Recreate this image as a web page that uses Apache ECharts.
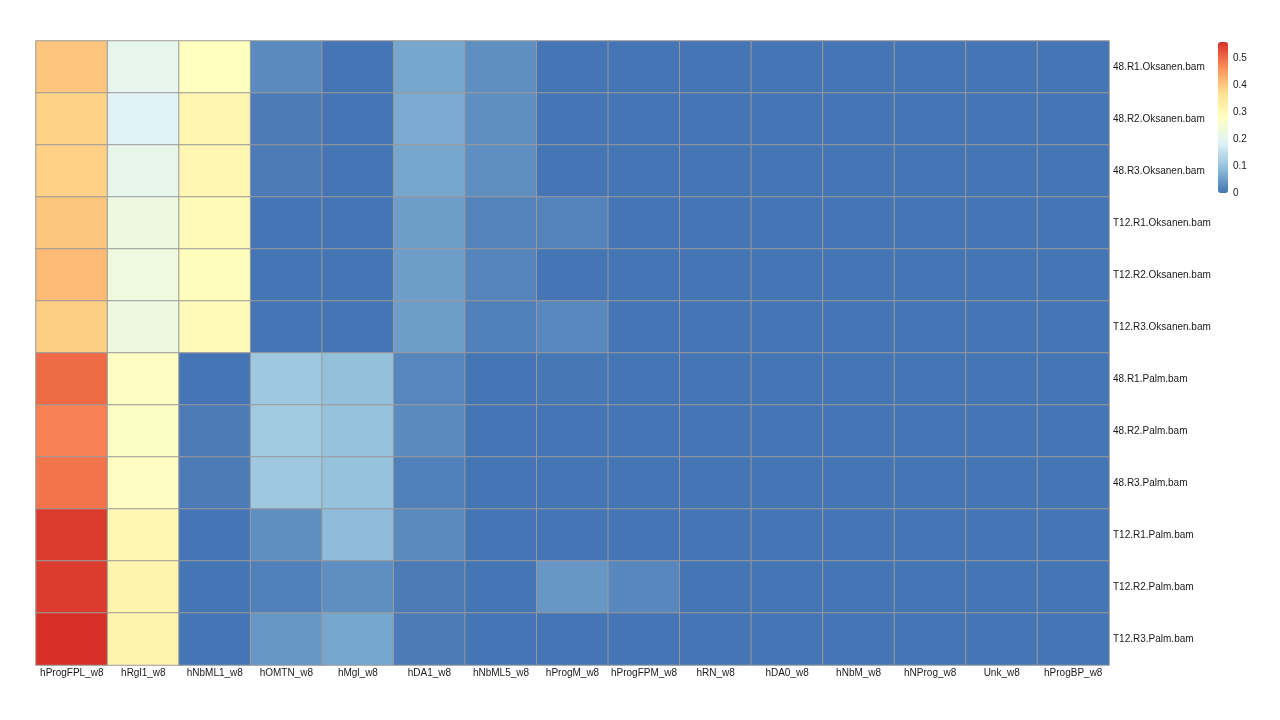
<!DOCTYPE html>
<html>
<head>
<meta charset="utf-8">
<script src="https://cdn.jsdelivr.net/npm/echarts@6/dist/echarts.min.js"></script>
<style>html,body{margin:0;padding:0;background:#fff}#c{width:1280px;height:720px}</style>
</head>
<body>
<div id="c"></div>
<script>
const columns = ["hProgFPL_w8","hRgl1_w8","hNbML1_w8","hOMTN_w8","hMgl_w8","hDA1_w8","hNbML5_w8","hProgM_w8","hProgFPM_w8","hRN_w8","hDA0_w8","hNbM_w8","hNProg_w8","Unk_w8","hProgBP_w8"];
const rows = ["48.R1.Oksanen.bam","48.R2.Oksanen.bam","48.R3.Oksanen.bam","T12.R1.Oksanen.bam","T12.R2.Oksanen.bam","T12.R3.Oksanen.bam","48.R1.Palm.bam","48.R2.Palm.bam","48.R3.Palm.bam","T12.R1.Palm.bam","T12.R2.Palm.bam","T12.R3.Palm.bam"];
// one array per row, values per column
const r48R1Oks  = [0.403,0.205,0.280,0.027,0.000,0.063,0.032,0.000,0.000,0,0,0,0,0,0];
const r48R2Oks  = [0.387,0.190,0.310,0.008,0.000,0.067,0.032,0.000,0.000,0,0,0,0,0,0];
const r48R3Oks  = [0.389,0.210,0.300,0.008,0.000,0.063,0.032,0.000,0.000,0,0,0,0,0,0];
const rT12R1Oks = [0.402,0.226,0.295,0.000,0.000,0.050,0.018,0.018,0.000,0,0,0,0,0,0];
const rT12R2Oks = [0.416,0.230,0.285,0.000,0.000,0.050,0.020,0.000,0.000,0,0,0,0,0,0];
const rT12R3Oks = [0.393,0.226,0.295,0.000,0.000,0.050,0.015,0.024,0.000,0,0,0,0,0,0];
const r48R1Palm = [0.502,0.275,0.000,0.110,0.096,0.021,0.000,0.002,0.000,0,0,0,0,0,0];
const r48R2Palm = [0.478,0.270,0.008,0.112,0.098,0.027,0.000,0.000,0.000,0,0,0,0,0,0];
const r48R3Palm = [0.491,0.275,0.008,0.110,0.098,0.014,0.000,0.000,0.000,0,0,0,0,0,0];
const rT12R1Palm= [0.548,0.300,0.000,0.032,0.090,0.027,0.000,0.000,0.000,0,0,0,0,0,0];
const rT12R2Palm= [0.547,0.315,0.000,0.014,0.032,0.008,0.000,0.043,0.023,0,0,0,0,0,0];
const rT12R3Palm= [0.559,0.315,0.000,0.043,0.063,0.008,0.000,0.000,0.000,0,0,0,0,0,0];
const matrix = [r48R1Oks,r48R2Oks,r48R3Oks,rT12R1Oks,rT12R2Oks,rT12R3Oks,r48R1Palm,r48R2Palm,r48R3Palm,rT12R1Palm,rT12R2Palm,rT12R3Palm];
const legendTicks = [0,0.1,0.2,0.3,0.4,0.5];
const valueMin = 0, valueMax = 0.559;
const palette = ["#4575B4","#91BFDB","#E0F3F8","#FFFFBF","#FEE090","#FC8D59","#D73027"];

const data = [];
matrix.forEach((row, yi) => row.forEach((v, xi) => data.push([xi, yi, v])));

const font = "Liberation Sans, Arial, sans-serif";
const chart = echarts.init(document.getElementById('c'));
chart.setOption({
  animation: false,
  backgroundColor: '#fff',
  grid: [
    {left: 36, right: 171, top: 41, bottom: 55},
    {left: 1218, width: 10, top: 42, height: 151}
  ],
  xAxis: [
    {type: 'category', data: columns, gridIndex: 0, position: 'bottom',
     axisLine: {show: false}, axisTick: {show: false}, splitLine: {show: false},
     axisLabel: {fontSize: 10, color: '#1a1a1a', fontFamily: font, margin: 3, interval: 0}},
    {type: 'value', gridIndex: 1, show: false, min: 0, max: 1}
  ],
  yAxis: [
    {type: 'category', data: rows, gridIndex: 0, inverse: true, position: 'right',
     axisLine: {show: false}, axisTick: {show: false}, splitLine: {show: false},
     axisLabel: {fontSize: 10, color: '#1a1a1a', fontFamily: font, margin: 4, align: 'left',
       padding: [2, 0, 0, 0]}},
    {type: 'value', gridIndex: 1, position: 'right', min: valueMin, max: valueMax,
     interval: 0.1, axisLine: {show: false}, axisTick: {show: false}, splitLine: {show: false},
     axisLabel: {fontSize: 10, color: '#1a1a1a', fontFamily: font, margin: 5,
       formatter: v => legendTicks.includes(Math.round(v*10)/10) && v <= 0.5 + 1e-9 ? String(Math.round(v*10)/10) : ''}}
  ],
  visualMap: {
    type: 'continuous', min: valueMin, max: valueMax, calculable: false,
    showLabel: false, text: null, padding: 0,
    left: 1218, top: 42, itemWidth: 10, itemHeight: 151,
    inRange: {color: palette},
    seriesIndex: 0
  },
  series: [
    {type: 'heatmap', xAxisIndex: 0, yAxisIndex: 0, data: data,
     itemStyle: {borderColor: '#9a9a9a', borderWidth: 1},
     emphasis: {disabled: true}},
    {type: 'line', xAxisIndex: 1, yAxisIndex: 1, data: [], silent: true}
  ]
});
</script>
</body>
</html>
